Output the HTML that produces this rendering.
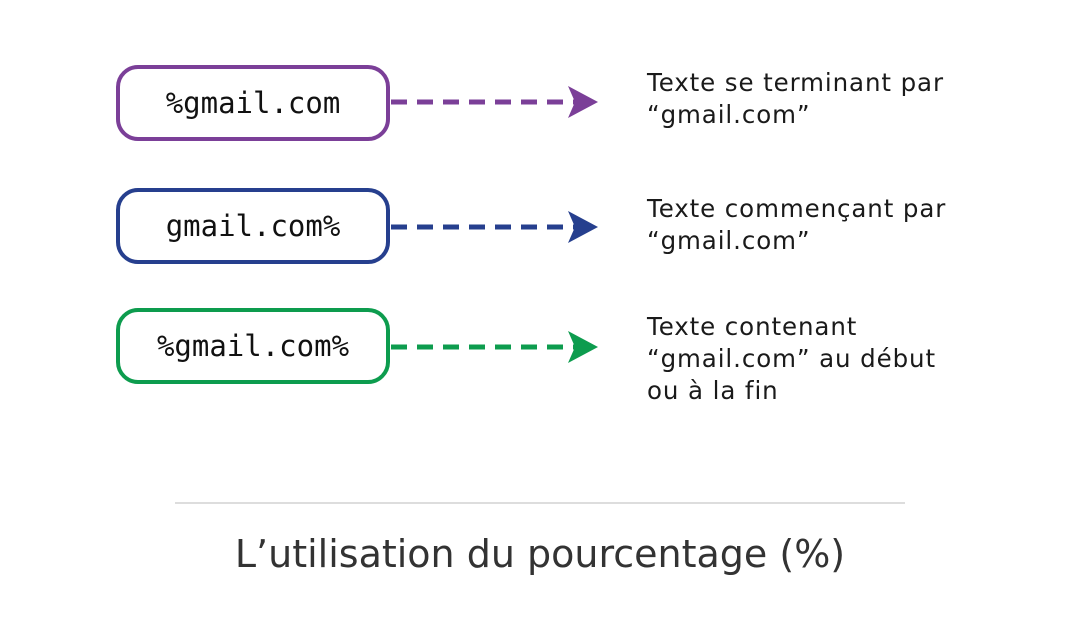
<!DOCTYPE html>
<html><head><style>
body{margin:0;width:1080px;height:628px;background:#fff;overflow:hidden;position:relative;font-family:"DejaVu Sans",sans-serif}
.box{position:absolute;left:116px;width:266px;height:68px;border:4px solid;border-radius:22px;font-family:"DejaVu Sans Mono","Liberation Mono",monospace;font-size:29px;color:#111;display:flex;align-items:center;justify-content:center}
.t{position:absolute;left:647px;font-size:24.5px;letter-spacing:0.9px;line-height:32px;color:#1a1a1a}
</style></head><body>
<div class="box" style="top:65px;border-color:#7b3f98">%gmail.com</div>
<div class="box" style="top:188px;border-color:#263f8e">gmail.com%</div>
<div class="box" style="top:308px;border-color:#0d9c4e">%gmail.com%</div>
<svg width="1080" height="628" style="position:absolute;left:0;top:0">
<g stroke-width="5" stroke-dasharray="16 10">
<line x1="391" y1="102" x2="575" y2="102" stroke="#7b3f98"/>
<line x1="391" y1="227" x2="575" y2="227" stroke="#263f8e"/>
<line x1="391" y1="347" x2="575" y2="347" stroke="#0d9c4e"/>
</g>
<path d="M568 86 L598 102 L568 118 L575 102Z" fill="#7b3f98"/>
<path d="M568 211 L598 227 L568 243 L575 227Z" fill="#263f8e"/>
<path d="M568 331 L598 347 L568 363 L575 347Z" fill="#0d9c4e"/>
<line x1="175" y1="503" x2="905" y2="503" stroke="#ddd" stroke-width="2"/>
</svg>
<div class="t" style="top:67px">Texte se terminant par<br>“gmail.com”</div>
<div class="t" style="top:193px">Texte commençant par<br>“gmail.com”</div>
<div class="t" style="top:311px">Texte contenant<br>“gmail.com” au début<br>ou à la fin</div>
<div style="position:absolute;left:0;width:1080px;top:532px;text-align:center;font-size:38px;color:#333">L’utilisation du pourcentage (%)</div>
</body></html>
